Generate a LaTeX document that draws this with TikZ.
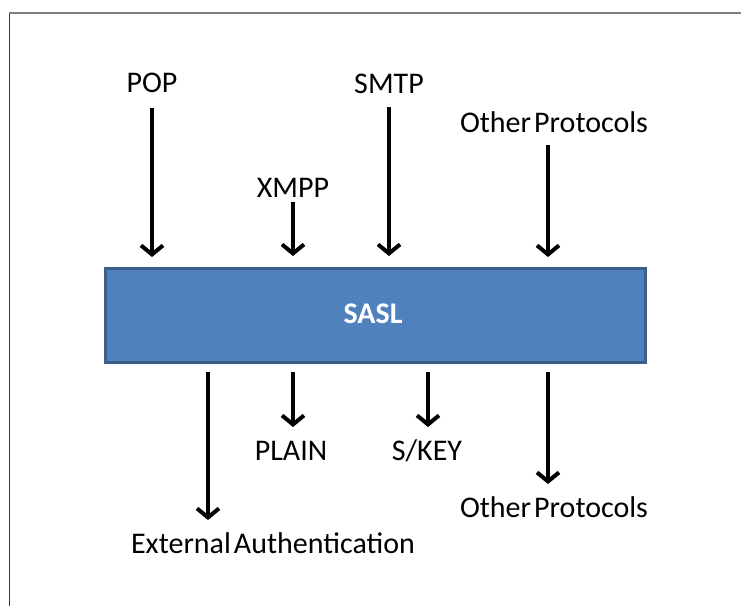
\documentclass[tikz,border=0pt]{standalone}
\usepackage{fontspec}
\setmainfont{Carlito}[WordSpace=0.45]
\usetikzlibrary{arrows.meta}
\definecolor{saslfill}{HTML}{4F81BD}
\definecolor{sasldraw}{HTML}{3A5F8B}
\tikzset{
  lbl/.style={font=\fontsize{30}{32}\selectfont, inner sep=0pt, anchor=base},
  flow/.style={line width=4pt, -{Straight Barb[length=9pt,width=22pt,line width=4pt]}},
}
\begin{document}
\begin{tikzpicture}[x=1pt,y=-1pt]
\useasboundingbox (0,0) rectangle (741,606);
\draw[line width=1pt, black!80] (9.5,606) -- (9.5,12.5);
\draw[line width=2pt, gray] (9,12.5) -- (741,12.5);
\node[draw=sasldraw, fill=saslfill, line width=3pt, minimum width=540pt, minimum height=94pt, inner sep=0pt, anchor=north west] (sasl) at (104,267) {};
\node[font=\fontsize{30}{32}\selectfont\bfseries, text=white, inner sep=0pt, anchor=base] (sasllbl) at (373,323) {SASL};
\node[lbl] (pop) at (152,92) {POP};
\node[lbl] (xmpp) at (293,197) {XMPP};
\node[lbl] (smtp) at (389,93) {SMTP};
\node[lbl] (otop) at (554,132) {Other Protocols};
\node[lbl] (ext) at (273,553) {External Authentication};
\node[lbl] (plain) at (291,460) {PLAIN};
\node[lbl] (skey) at (427,460) {S/KEY};
\node[lbl] (obot) at (554,517) {Other Protocols};
\coordinate (a1s) at (152,108);
\coordinate (a1) at (152,257);
\coordinate (a2s) at (293,202);
\coordinate (a2) at (293,256);
\coordinate (a3s) at (389,107);
\coordinate (a3) at (389,256);
\coordinate (a4s) at (548,145);
\coordinate (a4) at (548,257);
\coordinate (b1s) at (208,372);
\coordinate (b1) at (208,520);
\coordinate (b2s) at (293,372);
\coordinate (b2) at (293,427);
\coordinate (b3s) at (428,372);
\coordinate (b3) at (428,427);
\coordinate (b4s) at (548,372);
\coordinate (b4) at (548,484);
\draw[flow] (a1s) -- (a1);
\draw[flow] (a2s) -- (a2);
\draw[flow] (a3s) -- (a3);
\draw[flow] (a4s) -- (a4);
\draw[flow] (b1s) -- (b1);
\draw[flow] (b2s) -- (b2);
\draw[flow] (b3s) -- (b3);
\draw[flow] (b4s) -- (b4);
\end{tikzpicture}
\end{document}
